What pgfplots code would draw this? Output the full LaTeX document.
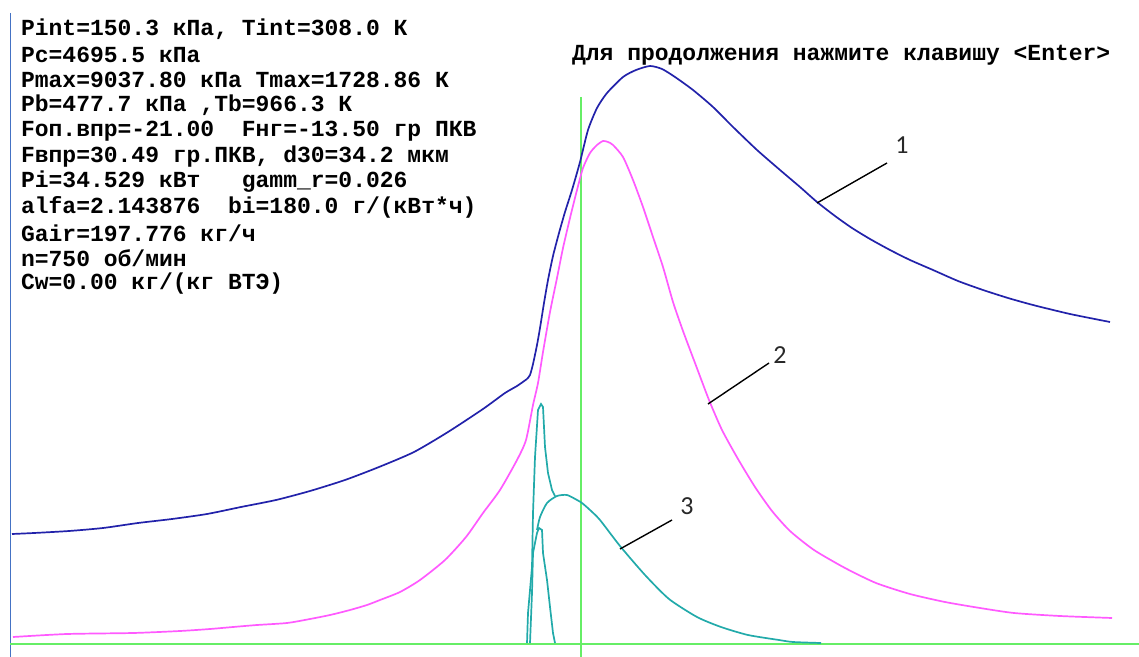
\documentclass[border=0pt]{standalone}
\usepackage{pgfplots}
\pgfplotsset{compat=1.18}
\usepackage{fontspec}
\newfontfamily\dosfont{Liberation Mono}
\newfontfamily\lblfont{Carlito}
\definecolor{cblue}{RGB}{34,34,170}
\definecolor{cmag}{RGB}{255,90,255}
\definecolor{ccyan}{RGB}{34,170,170}
\definecolor{cgreen}{RGB}{102,238,102}
\definecolor{cedge}{RGB}{68,114,196}
\definecolor{clbl}{RGB}{40,40,40}
\begin{document}
\begin{tikzpicture}
\path[use as bounding box] (0,0) rectangle (569.5pt,328.5pt);
\begin{axis}[at={(0,0)},anchor=south west, scale only axis,
  width=569.5pt, height=328.5pt,
  xmin=0,xmax=1139,ymin=0,ymax=657, y dir=reverse, hide axis, clip=false,
  every node/.style={inner sep=0pt, outer sep=0pt}]
% frame line at left
\addplot[cedge, line width=0.8pt] coordinates {(10.5,13) (10.5,657)};
% green axes
\addplot[cgreen, line width=1pt] coordinates {(10,644) (1139,644)};
\addplot[cgreen, line width=1pt] coordinates {(581,97) (581,657)};
% curve 1 (blue)
\addplot[cblue, line width=0.85pt, smooth, tension=0.4] coordinates {
(12,534) (34,533) (69,531) (103,528) (138,523) (172,519) (207,514) (241,507)
(276,500) (310,491) (345,480) (379,467) (414,452) (448,432) (483,409) (505,393)
(517,386) (527,379)};
\addplot[cblue, line width=0.85pt, smooth, tension=0.4] coordinates {
(527,379) (530,375) (533,364) (537,345) (540,328) (544,303) (548,280) (553,256)
(559,233) (565,212) (572,190) (580,162) (588,130) (597,108) (607,93) (623,77) (636,70)
(650,66) (662,69) (675,77) (693,90) (713,107) (733,127) (757,150) (780,170)
(800,187) (817,202) (835,216) (852,228) (870,239) (890,250) (910,260) (933,270)
(958,281) (983,290) (1008,298) (1033,305) (1070,314) (1110,322)};
% curve 2 (magenta)
\addplot[cmag, line width=0.85pt, smooth, tension=0.4] coordinates {
(13,637) (67,634) (133,633) (180,631) (210,629) (233,627) (257,625) (287,623)
(310,619) (330,615) (350,610) (367,605) (380,600) (400,592) (420,580) (445,560)
(466,537) (483,513) (500,490) (517,460) (526,440) (533,405) (538,383) (543,352)
(550,312) (557,278) (563,248) (570,218) (577,190) (583,168) (590,153) (597,145)
(603,141) (608,142) (613,145) (623,157) (633,180) (643,207) (653,237) (663,267)
(673,302) (683,331) (695,363) (709,400) (722,430) (738,459) (755,487) (772,511)
(790,531) (814,550) (845,568) (876,583) (910,594) (945,602) (980,608) (1014,613)
(1060,616) (1112,618)};
% curve 3 (cyan): tall spike, small spike, smooth curve
\addplot[ccyan, line width=0.85pt] coordinates {
(527,643) (528,613) (532,567) (533,513) (535,457) (538,410) (541,404) (543,407)
(545,447) (548,473) (552,490) (555,496)};
\addplot[ccyan, line width=0.85pt] coordinates {
(530,643) (532,593) (533,553) (537,533) (539,528) (542,530) (543,553) (547,580)
(550,607) (553,633) (555,643)};
\addplot[ccyan, line width=0.85pt, smooth, tension=0.4] coordinates {
(537,530) (540,517) (547,503) (557,496) (567,495) (577,500) (582,503) (590,510)
(600,520) (620,546) (645,575) (669,599) (697,617) (721,627) (748,635) (779,640)
(793,642) (821,643)};
% leader lines
\addplot[black, line width=0.7pt] coordinates {(817,203) (887,163)};
\addplot[black, line width=0.7pt] coordinates {(708,404) (769,363)};
\addplot[black, line width=0.7pt] coordinates {(620,549) (672,520)};
\node[clbl, font=\lblfont\fontsize{13}{13}\selectfont] at (axis cs:902,145) {1};
\node[clbl, font=\lblfont\fontsize{13}{13}\selectfont] at (axis cs:780,355) {2};
\node[clbl, font=\lblfont\fontsize{13}{13}\selectfont] at (axis cs:687,506) {3};
% texts
\begin{scope}[every node/.append style={anchor=west, font=\dosfont\bfseries\fontsize{11.5}{14}\selectfont}]
\node at (axis cs:14,29) {Pint=150.3 кПа, Tint=308.0 К};
\node at (axis cs:14,54.5) {Pc=4695.5 кПа};
\node at (axis cs:14,80) {Pmax=9037.80 кПа Tmax=1728.86 К};
\node at (axis cs:14,105.5) {Pb=477.7 кПа ,Tb=966.3 К};
\node at (axis cs:14,131) {Fоп.впр=-21.00~~Fнг=-13.50 гр ПКВ};
\node at (axis cs:14,156.5) {Fвпр=30.49 гр.ПКВ, d30=34.2 мкм};
\node at (axis cs:14,182) {Pi=34.529 кВт~~~gamm\_r=0.026};
\node at (axis cs:14,207.5) {alfa=2.143876~~bi=180.0 г/(кВт*ч)};
\node at (axis cs:14,233) {Gair=197.776 кг/ч};
\node at (axis cs:14,258.5) {n=750 об/мин};
\node at (axis cs:14,284) {Cw=0.00 кг/(кг ВТЭ)};
\node at (axis cs:565,55) {Для продолжения нажмите клавишу <Enter>};
\end{scope}
\end{axis}
\end{tikzpicture}
\end{document}
